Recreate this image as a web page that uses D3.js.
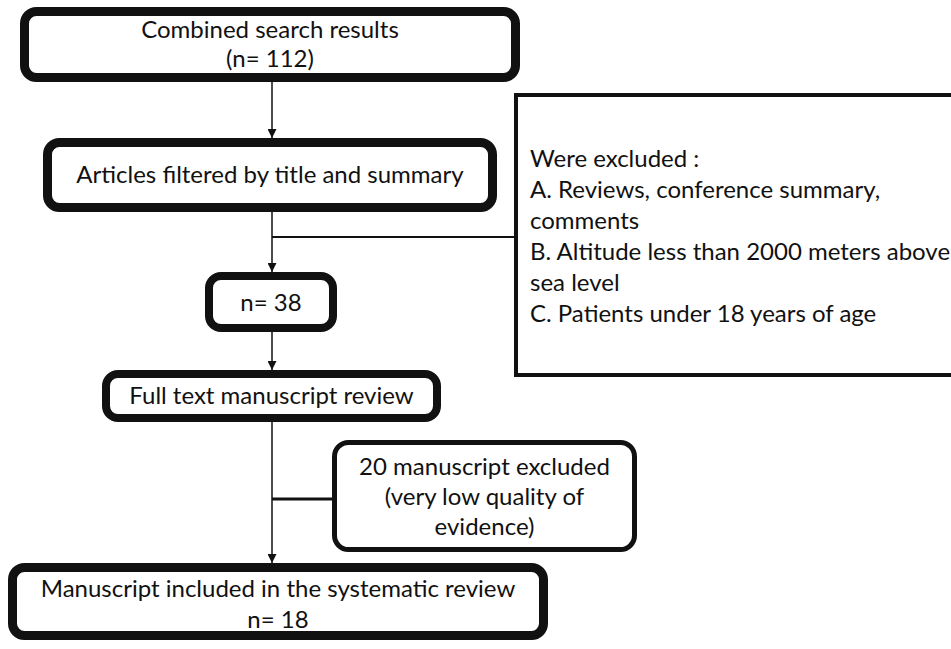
<!DOCTYPE html>
<html lang="en">
<head>
  <meta charset="UTF-8">
  <title>Systematic review flow</title>
  <script src="https://d3js.org/d3.v7.min.js"></script>
  <style>
    body { margin: 0; background: #fff; }
    text { font-family: Lato, "Open Sans", sans-serif; fill: #111; }
  </style>
</head>
<body>
  <div id="flow"></div>
  <script type="text/javascript">
    // stage labels and counts, top to bottom
    var stages = ["Combined search results", "Articles filtered by title and summary",
                  "", "Full text manuscript review", "Manuscript included in the systematic review"];
    var counts = [112, null, 38, null, 18];
    var countFormat = ["(n= {n})", "", "n= {n}", "", "n= {n}"];

    // exclusion notes
    var exclusionNotes = ["Were excluded :", "A. Reviews, conference summary,", "comments",
                          "B. Altitude less than 2000 meters above", "sea level",
                          "C. Patients under 18 years of age"];
    var qualityNotes = ["20 manuscript excluded", "(very low quality of", "evidence)"];

    // layout (pixel boxes for each stage)
    var layout = [
      {x: 24.5, y: 11.5, w: 491, h: 66, sw: 9, text: [38, 67]},
      {x: 47.5, y: 142.5, w: 445, h: 65, sw: 9, text: [183]},
      {x: 209, y: 276, w: 124, h: 52, sw: 8, text: [311]},
      {x: 106, y: 374, w: 331, h: 44, sw: 8, text: [404]},
      {x: 12.5, y: 567.5, w: 531, h: 68, sw: 9, text: [597, 628]}
    ];

    var width = 951, height = 649, spineX = 272, fontSize = "24px";
    var svg = d3.select("#flow").append("svg")
      .attr("width", width).attr("height", height);

    var defs = svg.append("defs");
    defs.append("marker")
      .attr("id", "arrow").attr("viewBox", "0 0 10 10")
      .attr("refX", 10).attr("refY", 5)
      .attr("markerWidth", 9).attr("markerHeight", 9)
      .attr("markerUnits", "userSpaceOnUse")
      .attr("orient", "auto")
      .append("path").attr("d", "M0,0 L10,5 L0,10 Z").attr("fill", "#111");

    function lines(i) {
      var out = [];
      if (stages[i]) out.push(stages[i]);
      if (counts[i] != null) out.push(countFormat[i].replace("{n}", counts[i]));
      return out;
    }

    // connectors
    var conn = svg.append("g").attr("stroke", "#111").attr("fill", "none");
    function arrow(y1, y2, sw) {
      conn.append("line").attr("x1", spineX).attr("x2", spineX)
        .attr("y1", y1).attr("y2", y2).attr("stroke-width", sw)
        .attr("marker-end", "url(#arrow)");
    }
    arrow(82, 138, 1.5);
    arrow(212, 272, 1.5);
    arrow(332, 370, 1.5);
    arrow(422, 563, 1.5);
    conn.append("line").attr("x1", spineX).attr("x2", 514).attr("y1", 237).attr("y2", 237).attr("stroke-width", 2);
    conn.append("line").attr("x1", spineX).attr("x2", 332).attr("y1", 499).attr("y2", 499).attr("stroke-width", 3);

    // main stage boxes
    var boxes = svg.selectAll("g.stage")
      .data(d3.range(stages.length))
      .enter().append("g").attr("class", "stage");

    boxes.append("rect")
      .attr("x", function (i) { return layout[i].x; })
      .attr("y", function (i) { return layout[i].y; })
      .attr("width", function (i) { return layout[i].w; })
      .attr("height", function (i) { return layout[i].h; })
      .attr("rx", 12).attr("ry", 12)
      .attr("fill", "#fff").attr("stroke", "#111")
      .attr("stroke-width", function (i) { return layout[i].sw; });

    boxes.each(function (i) {
      var g = d3.select(this);
      var L = layout[i];
      lines(i).forEach(function (t, k) {
        g.append("text")
          .attr("x", L.x + L.w / 2).attr("y", L.text[k])
          .attr("text-anchor", "middle")
          .style("font-size", fontSize)
          .text(t);
      });
    });

    // exclusion box on the right (runs off the page)
    svg.append("rect")
      .attr("x", 516).attr("y", 95).attr("width", 460).attr("height", 280)
      .attr("fill", "#fff").attr("stroke", "#111").attr("stroke-width", 4);
    svg.selectAll("text.excl")
      .data(exclusionNotes).enter().append("text")
      .attr("class", "excl")
      .attr("x", 530)
      .attr("y", function (d, i) { return 167 + i * 31; })
      .style("font-size", fontSize)
      .text(function (d) { return d; });

    // quality exclusion box
    svg.append("rect")
      .attr("x", 334.5).attr("y", 442.5).attr("width", 300).attr("height", 107)
      .attr("rx", 14).attr("ry", 14)
      .attr("fill", "#fff").attr("stroke", "#111").attr("stroke-width", 5);
    svg.selectAll("text.qual")
      .data(qualityNotes).enter().append("text")
      .attr("class", "qual")
      .attr("x", 484.5)
      .attr("y", function (d, i) { return 475 + i * 30; })
      .attr("text-anchor", "middle")
      .style("font-size", fontSize)
      .text(function (d) { return d; });
  </script>
</body>
</html>
